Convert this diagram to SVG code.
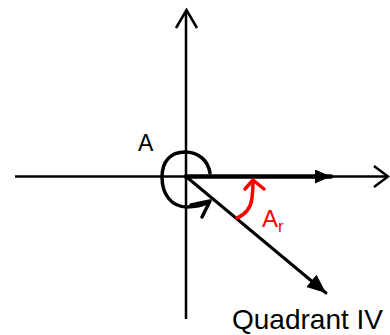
<svg xmlns="http://www.w3.org/2000/svg" width="390" height="335" viewBox="0 0 390 335">
<style>
.ax{stroke:#000;stroke-width:2.5;fill:none;stroke-linecap:butt}
.blk{stroke:#000;fill:none;stroke-linecap:round;stroke-linejoin:round}
.red{stroke:#f00;fill:none;stroke-width:3.5;stroke-linecap:round;stroke-linejoin:round}
.lbl{font-family:"Liberation Sans",Arial,sans-serif;fill:#000}
.rlbl{font-family:"Liberation Sans",Arial,sans-serif;fill:#f00}
</style>
<defs>
<marker id="fill1" markerUnits="userSpaceOnUse" markerWidth="20" markerHeight="20" refX="16" refY="7" orient="auto">
<path d="M0,0 L16,7 L0,14 Z" fill="#000"/>
</marker>
<marker id="fill2" markerUnits="userSpaceOnUse" markerWidth="22" markerHeight="20" refX="19" refY="8" orient="auto">
<path d="M0,0 L19,8 L0,16 Z" fill="#000"/>
</marker>
</defs>
<rect width="390" height="335" fill="#fff"/>
<g id="connectors">
<path class="ax" d="M186,319 V11"/>
<path class="ax" d="M176,28 L186.5,10 L197,28"/>
<path class="ax" d="M15,176.5 H387"/>
<path class="ax" d="M374,166 L388,176.5 L374,187"/>
<path class="blk" d="M186,176.5 H331" stroke-width="4.5" marker-end="url(#fill1)"/>
<path class="blk" d="M186,176.5 L326,293" stroke-width="3" marker-end="url(#fill2)"/>
<path class="blk" stroke-width="3.5" d="M210,173 C208,160 198,152 185,152 C170,152 162,162 162,177 C162,195 172,207 187,207 C195,207 203,205 209,202"/>
<path class="blk" stroke-width="3.5" d="M191,205 L210,201 L202,217"/>
<path class="red" d="M237,218 C246,214 251,208 252,198 C253,190 253,186 253,182"/>
<path class="red" d="M245,189 L253,180 L264,189"/>
</g>
<g id="label-A"><text class="lbl" x="138" y="151" font-size="23">A</text></g>
<g id="label-Ar"><text class="rlbl" x="262" y="227" font-size="24">A<tspan font-size="17" dy="5">r</tspan></text></g>
<g id="label-quadrant"><text class="lbl" x="232" y="329" font-size="28">Quadrant IV</text></g>
</svg>
